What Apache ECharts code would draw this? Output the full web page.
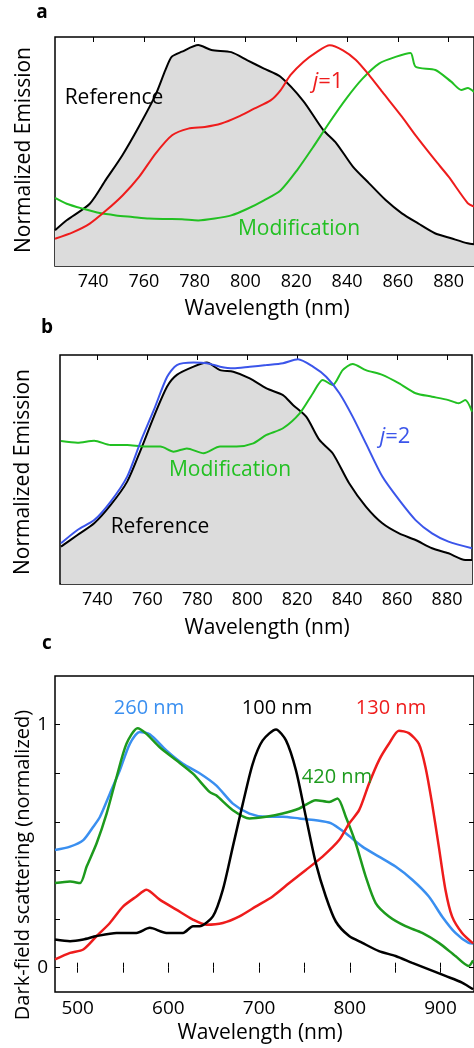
<!DOCTYPE html>
<html>
<head>
<meta charset="utf-8">
<script src="https://cdn.jsdelivr.net/npm/echarts@6/dist/echarts.min.js"></script>
<style>
  html, body { margin: 0; padding: 0; background: #fff; }
  #chart { width: 474px; height: 1048px; }
</style>
</head>
<body>
<div id="chart"></div>
<script>
// panel a : reference vs j=1 vs modification
const aRefNm = [725, 729.6, 738.7, 745, 751.6, 758, 764.6, 768.5, 771, 775, 781.4, 786.6, 794.4, 800.8, 807.3, 813.8, 822.8, 830.6, 835.8, 842.3, 848.7, 855.2, 861.6, 868, 874.6, 881, 887.5, 890];
const aRefVal = [0.156, 0.2, 0.272, 0.376, 0.485, 0.608, 0.747, 0.856, 0.914, 0.936, 0.965, 0.943, 0.934, 0.898, 0.862, 0.826, 0.72, 0.594, 0.536, 0.434, 0.361, 0.288, 0.23, 0.186, 0.143, 0.121, 0.099, 0.095];
const aJ1Nm = [725, 732.2, 738.7, 745.2, 751.7, 758.1, 764.6, 771.1, 777.5, 784, 790.5, 797, 803.4, 809.9, 813.8, 817.7, 822.8, 828, 833.2, 838.4, 843.5, 848.7, 853.9, 861.6, 867, 874.6, 880, 887.5, 890];
const aJ1Val = [0.119, 0.148, 0.185, 0.243, 0.309, 0.389, 0.491, 0.571, 0.6, 0.607, 0.622, 0.651, 0.687, 0.723, 0.767, 0.833, 0.891, 0.934, 0.964, 0.942, 0.9, 0.834, 0.76, 0.652, 0.57, 0.463, 0.39, 0.275, 0.26];
const aModNm = [725, 729.6, 736.1, 742.6, 749, 755.5, 762, 768.5, 775, 781.4, 787.9, 794.4, 800.8, 807.3, 813.8, 820.3, 826.7, 833.2, 839.7, 846.1, 852.6, 859.1, 865, 867, 874.8, 881, 885, 887.6, 890];
const aModVal = [0.297, 0.272, 0.25, 0.231, 0.221, 0.214, 0.207, 0.205, 0.204, 0.199, 0.207, 0.221, 0.25, 0.287, 0.33, 0.418, 0.52, 0.629, 0.731, 0.818, 0.884, 0.913, 0.93, 0.87, 0.856, 0.805, 0.769, 0.777, 0.76];

// panel b : reference vs j=2 vs modification
const bRefNm = [725.4, 732, 738.7, 745.3, 751.9, 757.3, 762.6, 767.9, 771.8, 778.5, 783.8, 789.1, 794.4, 801, 807.7, 814.3, 818.3, 823.6, 828.9, 834.2, 840.8, 847.5, 854.1, 860.8, 867.4, 874, 880.6, 887.3, 890];
const bRefVal = [0.163, 0.214, 0.265, 0.345, 0.447, 0.585, 0.731, 0.862, 0.913, 0.949, 0.967, 0.934, 0.927, 0.898, 0.854, 0.825, 0.782, 0.731, 0.629, 0.571, 0.44, 0.338, 0.265, 0.221, 0.192, 0.156, 0.134, 0.105, 0.105];
const bJ2Nm = [725.4, 732, 738.7, 745.3, 751.9, 757.3, 762.6, 767.9, 771.8, 778.5, 783.8, 789.1, 794.4, 801, 807.7, 814.3, 820.3, 826.3, 831.6, 836.9, 842.2, 847.5, 854.1, 860.8, 867.4, 874, 880.6, 890];
const bJ2Val = [0.178, 0.236, 0.279, 0.36, 0.469, 0.622, 0.76, 0.905, 0.956, 0.967, 0.964, 0.949, 0.942, 0.949, 0.956, 0.964, 0.981, 0.949, 0.905, 0.833, 0.731, 0.614, 0.469, 0.367, 0.279, 0.221, 0.185, 0.156];
const bModNm = [725.4, 732, 738.7, 745.3, 751.9, 758.6, 765.2, 770.5, 775.8, 782.5, 789.1, 795.7, 802.4, 807.7, 814.3, 821, 826.3, 830.2, 834.2, 838.2, 842.2, 847.5, 854.1, 860.8, 867.4, 874, 880.6, 884.6, 887.3, 890];
const bModVal = [0.624, 0.617, 0.626, 0.607, 0.607, 0.6, 0.6, 0.578, 0.592, 0.571, 0.6, 0.6, 0.614, 0.651, 0.68, 0.745, 0.833, 0.891, 0.869, 0.934, 0.961, 0.934, 0.913, 0.876, 0.833, 0.818, 0.803, 0.789, 0.803, 0.753];

// panel c : dark-field scattering
const c260Nm = [475, 491.6, 506.2, 517.2, 524.5, 535.5, 546.5, 557.5, 568.5, 579.5, 597.8, 616.1, 634.4, 652.7, 671.1, 689.4, 707.7, 726, 744.3, 762.6, 779, 795.6, 813.9, 832.2, 850.5, 868.9, 887.2, 901.8, 916.5, 931.1, 936];
const c260Val = [0.484, 0.498, 0.525, 0.58, 0.62, 0.716, 0.812, 0.921, 0.97, 0.96, 0.894, 0.839, 0.8, 0.75, 0.675, 0.634, 0.621, 0.621, 0.614, 0.607, 0.595, 0.553, 0.498, 0.457, 0.416, 0.362, 0.293, 0.211, 0.143, 0.102, 0.1];
const c420Nm = [475, 491.6, 502.6, 509.9, 520.9, 531.9, 542.9, 553.8, 566, 575.8, 590.5, 608.8, 627.1, 645.4, 652.7, 671.1, 689.4, 707.7, 726, 744.3, 762.6, 777.3, 786.5, 795.6, 806.6, 817.6, 828.6, 843.2, 861.5, 879.9, 898.2, 916.5, 931.1, 936];
const c420Val = [0.348, 0.355, 0.348, 0.416, 0.512, 0.634, 0.784, 0.921, 0.985, 0.962, 0.907, 0.853, 0.798, 0.723, 0.709, 0.648, 0.614, 0.621, 0.634, 0.655, 0.689, 0.682, 0.696, 0.621, 0.512, 0.375, 0.266, 0.211, 0.171, 0.143, 0.102, 0.048, 0.007, 0.03];
const c130Nm = [475, 491.6, 506.2, 520.9, 535.5, 550.2, 564.8, 575.8, 590.5, 608.8, 627.1, 641.8, 660.1, 678.4, 696.7, 715, 733.3, 751.6, 770, 788.3, 799.3, 810.3, 821.2, 832.2, 843.2, 854.2, 865.2, 876.2, 883.5, 890.8, 898.2, 905.5, 912.8, 923.8, 936];
const c130Val = [0.034, 0.061, 0.075, 0.13, 0.184, 0.252, 0.293, 0.321, 0.28, 0.239, 0.198, 0.177, 0.184, 0.211, 0.252, 0.293, 0.348, 0.402, 0.457, 0.525, 0.593, 0.648, 0.757, 0.853, 0.921, 0.975, 0.965, 0.921, 0.825, 0.675, 0.498, 0.321, 0.211, 0.143, 0.1];
const c100Nm = [475, 491.6, 506.2, 520.9, 542.9, 564.8, 579.5, 597.8, 616.1, 627.1, 634.4, 649.1, 660.1, 671.1, 682.1, 693, 704, 718.7, 729.7, 740.7, 751.6, 762.6, 773.6, 784.6, 799.3, 813.9, 832.2, 850.5, 868.9, 887.2, 905.5, 923.8, 936];
const c100Val = [0.116, 0.109, 0.116, 0.13, 0.143, 0.143, 0.164, 0.143, 0.143, 0.171, 0.171, 0.211, 0.321, 0.498, 0.675, 0.839, 0.935, 0.98, 0.935, 0.812, 0.621, 0.43, 0.293, 0.19, 0.13, 0.102, 0.068, 0.048, 0.02, -0.007, -0.034, -0.061, -0.089];

// tick labels
const abTicks = [740, 760, 780, 800, 820, 840, 860, 880];
const cTicks = [500, 550, 600, 650, 700, 750, 800, 850, 900];
const cLabels = [500, 600, 700, 800, 900];
const cYTicks = [0, 0.2, 0.4, 0.6, 0.8, 1];
const cYLabels = [0, 1];

const FONT = '"Open Sans", "Noto Sans", sans-serif';
const pair = (xs, ys) => xs.map((x, i) => [x, ys[i]]);

function xAx(grid, min, max, ticks, labels, top, fs) {
  return {
    gridIndex: grid, type: 'value', min: min, max: max,
    position: top ? 'top' : 'bottom',
    axisLine: { show: false },
    axisTick: { inside: true, length: 5, customValues: ticks, lineStyle: { color: '#000', width: 1 } },
    axisLabel: { show: !top, customValues: labels, color: '#000', fontSize: fs || 18, fontFamily: FONT, margin: 7 },
    splitLine: { show: false }
  };
}
function yAx(grid, min, max, ticks, labels, right) {
  return {
    gridIndex: grid, type: 'value', min: min, max: max,
    position: right ? 'right' : 'left',
    axisLine: { show: false },
    axisTick: { show: !!ticks, inside: true, length: 5, customValues: ticks || [], lineStyle: { color: '#000', width: 1 } },
    axisLabel: { show: !!labels && !right, customValues: labels || [], color: '#000', fontSize: 19, fontFamily: FONT, margin: 7 },
    splitLine: { show: false }
  };
}
function line(xi, yi, xs, ys, color, w, area) {
  const s = {
    type: 'line', xAxisIndex: xi, yAxisIndex: yi, data: pair(xs, ys),
    symbol: 'none', smooth: 0.25, silent: true,
    lineStyle: { color: color, width: w }
  };
  if (area) s.areaStyle = { color: '#dcdcdc', opacity: 1, origin: 'start' };
  return s;
}
function txt(x, y, text, color, size, extra) {
  return Object.assign({
    type: 'text', x: x, y: y, z: 100, silent: true,
    style: { text: text, fill: color, font: size + 'px ' + FONT, align: 'center', verticalAlign: 'middle' }
  }, extra || {});
}
function jLabel(x, y, text, color) {
  return {
    type: 'text', x: x, y: y, z: 100, silent: true,
    style: {
      text: '{i|j}{n|' + text + '}', fill: color, align: 'center', verticalAlign: 'middle',
      rich: {
        i: { fontStyle: 'italic', fontSize: 22, fontFamily: FONT, fill: color },
        n: { fontSize: 22, fontFamily: FONT, fill: color }
      }
    }
  };
}
function letter(x, y, t) {
  return {
    type: 'text', x: x, y: y, z: 100, silent: true,
    style: { text: t, fill: '#000', font: 'bold 19px ' + FONT, align: 'center', verticalAlign: 'middle' }
  };
}

const gridBox = { show: true, borderColor: '#000', borderWidth: 1.5, backgroundColor: 'transparent' };

const chart = echarts.init(document.getElementById('chart'), null, { renderer: 'canvas' });
chart.setOption({
  animation: false,
  backgroundColor: '#fff',
  grid: [
    Object.assign({ left: 55, top: 37, width: 425, height: 229 }, gridBox),
    Object.assign({ left: 60, top: 355, width: 412, height: 229 }, gridBox),
    Object.assign({ left: 55, top: 676, width: 421, height: 316 }, gridBox)
  ],
  xAxis: [
    xAx(0, 725, 890, abTicks, abTicks, false, 18), xAx(0, 725, 890, abTicks, [], true),
    xAx(1, 725, 890, abTicks, abTicks, false, 18), xAx(1, 725, 890, abTicks, [], true),
    xAx(2, 475, 937, cTicks, cLabels, false, 19), xAx(2, 475, 937, cTicks, [], true)
  ],
  yAxis: [
    yAx(0, 0, 1, null, null, false),
    yAx(1, 0, 1, null, null, false),
    yAx(2, -0.1, 1.2, cYTicks, cYLabels, false), yAx(2, -0.1, 1.2, cYTicks, null, true)
  ],
  series: [
    line(0, 0, aRefNm, aRefVal, '#000', 2, true),
    line(0, 0, aModNm, aModVal, '#22c022', 2),
    line(0, 0, aJ1Nm, aJ1Val, '#ee1c1c', 2),

    line(2, 1, bRefNm, bRefVal, '#000', 2, true),
    line(2, 1, bModNm, bModVal, '#22c022', 2),
    line(2, 1, bJ2Nm, bJ2Val, '#3b55ea', 2),

    line(4, 2, c260Nm, c260Val, '#3a8ff0', 2.5),
    line(4, 2, c420Nm, c420Val, '#1d9a1d', 2.5),
    line(4, 2, c130Nm, c130Val, '#ee1c1c', 2.5),
    line(4, 2, c100Nm, c100Val, '#000', 2.5)
  ],
  graphic: [
    // panel letters
    letter(42, 13, 'a'),
    letter(47, 328, 'b'),
    letter(47, 644, 'c'),

    // axis titles
    txt(267, 309, 'Wavelength (nm)', '#000', 21),
    txt(267, 628, 'Wavelength (nm)', '#000', 21),
    txt(260, 1033, 'Wavelength (nm)', '#000', 21),
    txt(24, 150, 'Normalized Emission', '#000', 21, { rotation: Math.PI / 2 }),
    txt(23, 472, 'Normalized Emission', '#000', 21, { rotation: Math.PI / 2 }),
    txt(23, 865, 'Dark-field scattering (normalized)', '#000', 20, { rotation: Math.PI / 2 }),

    // panel a labels
    txt(114, 98, 'Reference', '#000', 21),
    jLabel(328, 82, '=1', '#ee1c1c'),
    txt(299, 229, 'Modification', '#22c022', 21),

    // panel b labels
    txt(230, 470, 'Modification', '#22c022', 21),
    jLabel(395, 437, '=2', '#3b55ea'),
    txt(160, 527, 'Reference', '#000', 21),

    // panel c labels
    txt(149, 708, '260 nm', '#3a8ff0', 20),
    txt(277, 708, '100 nm', '#000', 20),
    txt(391, 708, '130 nm', '#ee1c1c', 20),
    txt(337, 777, '420 nm', '#1d9a1d', 20)
  ]
});
</script>
</body>
</html>
